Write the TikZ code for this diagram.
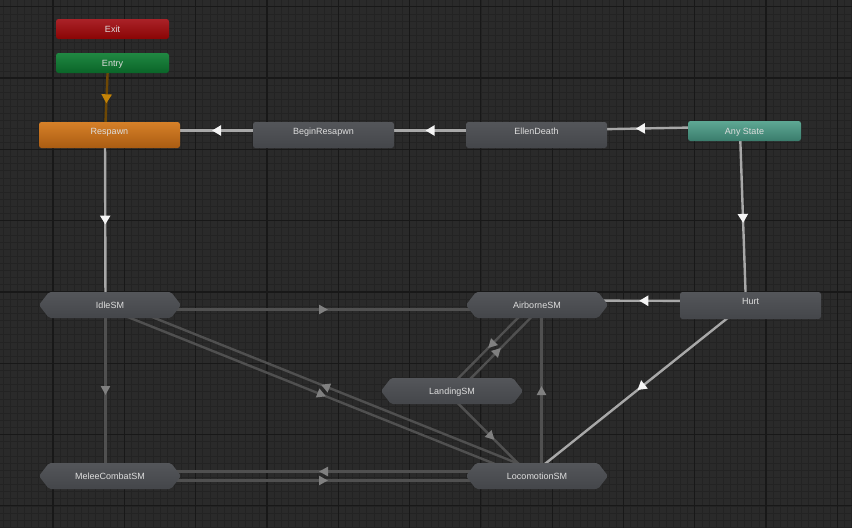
\documentclass[tikz,border=0pt]{standalone}
\usepackage{fontspec}
\setmainfont{Liberation Sans}
\usepackage{xcolor}
\definecolor{gridBg}{RGB}{42,42,42}
\definecolor{gridMinor}{RGB}{35,35,35}
\definecolor{gridMajor}{RGB}{24,24,24}
\definecolor{stateTop}{RGB}{84,86,90}
\definecolor{stateBot}{RGB}{68,70,74}
\definecolor{exitTop}{RGB}{170,34,40}
\definecolor{exitBot}{RGB}{138,4,4}
\definecolor{entryTop}{RGB}{32,136,66}
\definecolor{entryBot}{RGB}{10,100,40}
\definecolor{respTop}{RGB}{214,128,40}
\definecolor{respBot}{RGB}{170,92,18}
\definecolor{anyTop}{RGB}{94,168,148}
\definecolor{anyBot}{RGB}{58,124,108}
\definecolor{labelText}{RGB}{222,222,222}
\definecolor{transLine}{RGB}{168,168,168}
\definecolor{transHead}{RGB}{245,245,245}
\definecolor{smLine}{RGB}{80,80,80}
\definecolor{smHead}{RGB}{128,128,128}
\definecolor{entryLine}{RGB}{110,72,4}
\definecolor{entryHead}{RGB}{196,132,8}
\usepackage{tikz}
\usetikzlibrary{arrows.meta,shapes.symbols,decorations.markings,calc,positioning}
\pgfdeclarelayer{grid}
\pgfdeclarelayer{edges}
\pgfsetlayers{grid,edges,main}
\tikzstyle{state}=[rectangle, rounded corners=2.5pt, minimum width=141pt, minimum height=26pt,
  top color=stateTop, bottom color=stateBot, text=labelText, font=\fontsize{9}{10}\selectfont,
  inner sep=0pt, text height=6.5pt, text depth=8.3pt]
\tikzstyle{small}=[state, minimum width=113pt, minimum height=20pt, text depth=0.4pt]
\tikzstyle{machine}=[signal, signal to=west and east, signal pointer angle=105, rounded corners=2pt,
  minimum width=142pt, minimum height=26pt, top color=stateTop, bottom color=stateBot,
  text=labelText, font=\fontsize{9}{10}\selectfont, inner sep=0pt, text height=6.5pt, text depth=0.4pt]
\tikzstyle{trans}=[draw=transLine, line width=2.4pt, postaction={decorate},
  decoration={markings, mark=at position 0.5 with {\pgftransformxshift{4.5pt}\arrow{Triangle[length=9pt,width=10pt,color=transHead]}}}]
\tikzstyle{smTrans}=[draw=smLine, line width=2.4pt, postaction={decorate},
  decoration={markings, mark=at position 0.5 with {\pgftransformxshift{4.5pt}\arrow{Triangle[length=9pt,width=9pt,color=smHead]}}}]
\tikzstyle{entryTrans}=[draw=entryLine, line width=2.4pt, postaction={decorate},
  decoration={markings, mark=at position 0.5 with {\pgftransformxshift{4.5pt}\arrow{Triangle[length=9pt,width=10pt,color=entryHead]}}}]

\begin{document}
\begin{tikzpicture}[x=1pt,y=-1pt]
  \useasboundingbox (0,0) rectangle (852,528);
  \clip (0,0) rectangle (852,528);
  % grid
  \begin{pgfonlayer}{grid}
    \fill[gridBg] (0,0) rectangle (852,528);
    \foreach \i in {-7,...,112}
      \draw[gridMinor, line width=0.6pt] ({53+7.13*\i},0) -- ++(0,528);
    \foreach \j in {-10,...,63}
      \draw[gridMinor, line width=0.6pt] (0,{78+7.13*\j}) -- ++(852,0);
    \foreach \i in {-1,...,11}
      \draw[gridMajor, line width=1.2pt] ({53+71.3*\i},0) -- ++(0,528);
    \foreach \j in {-1,...,6}
      \draw[gridMajor, line width=1.2pt] (0,{78+71.3*\j}) -- ++(852,0);
  \end{pgfonlayer}

  % states
  \node[small, top color=exitTop, bottom color=exitBot] (exit) at (112.5,29) {Exit};
  \node[small, top color=entryTop, bottom color=entryBot] (entry) at (112.5,63) {Entry};
  \node[state, top color=respTop, bottom color=respBot] (respawn) at (109.5,135) {Respawn};
  \node[state] (beginRespawn) at (323.5,135) {BeginResapwn};
  \node[state] (ellenDeath) at (536.5,135) {EllenDeath};
  \node[small, top color=anyTop, bottom color=anyBot] (anyState) at (744.5,131) {Any State};
  \node[state, minimum height=27pt] (hurt) at (750.5,305.5) {Hurt};
  % sub-state machines
  \node[machine] (idleSM) at (110,305) {IdleSM};
  \node[machine] (airborneSM) at (537,305) {AirborneSM};
  \node[machine] (landingSM) at (452,391) {LandingSM};
  \node[machine] (meleeSM) at (110,476) {MeleeCombatSM};
  \node[machine] (locomotionSM) at (537,476) {LocomotionSM};

  % transitions, centre to centre, shifted to the right of travel
  \begin{pgfonlayer}{edges}
    \draw[entryTrans] ($(entry)!4.5pt!-90:(respawn)$) -- ($(respawn)!4.5pt!90:(entry)$);
    \draw[trans] ($(beginRespawn)!4.5pt!-90:(respawn)$) -- ($(respawn)!4.5pt!90:(beginRespawn)$);
    \draw[trans] ($(ellenDeath)!4.5pt!-90:(beginRespawn)$) -- ($(beginRespawn)!4.5pt!90:(ellenDeath)$);
    \draw[trans] ($(anyState)!4.5pt!-90:(ellenDeath)$) -- ($(ellenDeath)!4.5pt!90:(anyState)$);
    \draw[trans] ($(anyState)!4.5pt!-90:(hurt)$) -- ($(hurt)!4.5pt!90:(anyState)$);
    \draw[trans] ($(hurt)!4.5pt!-90:(airborneSM)$) -- ($(airborneSM)!4.5pt!90:(hurt)$);
    \draw[trans] ($(hurt)!4.5pt!-90:(locomotionSM)$) -- ($(locomotionSM)!4.5pt!90:(hurt)$);
    \draw[trans] ($(respawn)!4.5pt!-90:(idleSM)$) -- ($(idleSM)!4.5pt!90:(respawn)$);
    \draw[smTrans] ($(idleSM)!4.5pt!-90:(meleeSM)$) -- ($(meleeSM)!4.5pt!90:(idleSM)$);
    \draw[smTrans] ($(idleSM)!4.5pt!-90:(airborneSM)$) -- ($(airborneSM)!4.5pt!90:(idleSM)$);
    \draw[smTrans] ($(idleSM)!4.5pt!-90:(locomotionSM)$) -- ($(locomotionSM)!4.5pt!90:(idleSM)$);
    \draw[smTrans] ($(locomotionSM)!4.5pt!-90:(idleSM)$) -- ($(idleSM)!4.5pt!90:(locomotionSM)$);
    \draw[smTrans] ($(meleeSM)!4.5pt!-90:(locomotionSM)$) -- ($(locomotionSM)!4.5pt!90:(meleeSM)$);
    \draw[smTrans] ($(locomotionSM)!4.5pt!-90:(meleeSM)$) -- ($(meleeSM)!4.5pt!90:(locomotionSM)$);
    \draw[smTrans] ($(airborneSM)!4.5pt!-90:(landingSM)$) -- ($(landingSM)!4.5pt!90:(airborneSM)$);
    \draw[smTrans] ($(landingSM)!4.5pt!-90:(airborneSM)$) -- ($(airborneSM)!4.5pt!90:(landingSM)$);
    \draw[smTrans] ($(landingSM)!4.5pt!-90:(locomotionSM)$) -- ($(locomotionSM)!4.5pt!90:(landingSM)$);
    \draw[smTrans] ($(locomotionSM)!4.5pt!-90:(airborneSM)$) -- ($(airborneSM)!4.5pt!90:(locomotionSM)$);
  \end{pgfonlayer}
\end{tikzpicture}
\end{document}
